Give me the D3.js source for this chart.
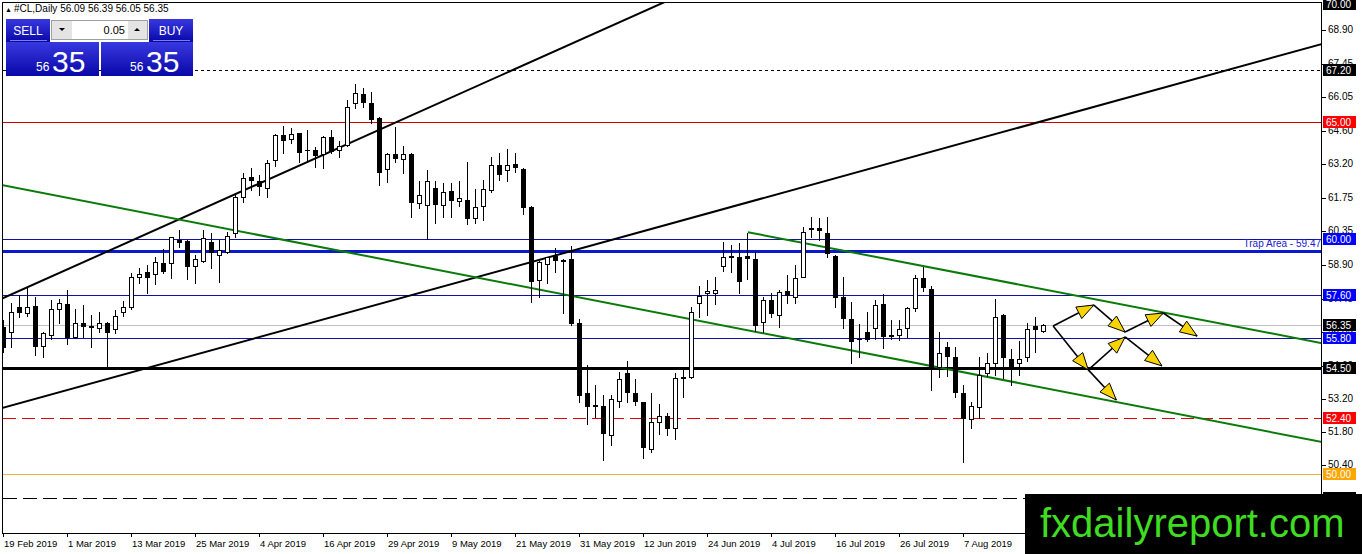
<!DOCTYPE html>
<html>
<head>
<meta charset="utf-8">
<title>#CL,Daily</title>
<script src="https://d3js.org/d3.v7.min.js"></script>
<style>
    body{margin:0;background:#fff;}
    svg{display:block;}
    text{font-family:"Liberation Sans",Arial,sans-serif;}
</style>
</head>
<body>
<svg width="1362" height="554"></svg>
<script>
// x axis labels and the bar they sit on
var dateLabels = ["19 Feb 2019","1 Mar 2019","13 Mar 2019","25 Mar 2019","4 Apr 2019","16 Apr 2019",
    "29 Apr 2019","9 May 2019","21 May 2019","31 May 2019","12 Jun 2019","24 Jun 2019","4 Jul 2019",
    "16 Jul 2019","26 Jul 2019","7 Aug 2019"];
var dateBars = [0,8,16,24,32,40,48,56,64,72,80,88,96,104,112,120];

// daily candles, bar 0 = 19 Feb 2019
var opens = [56.26,56.03,57.09,56.84,57.15,55.46,55.91,57.01,57.22,55.84,56.44,56.30,56.20,56.41,56.16,56.88,57.12,58.37,58.58,58.50,
    58.98,58.97,59.96,59.91,58.86,59.08,59.89,59.32,59.46,60.27,61.80,62.63,62.48,62.18,63.36,64.43,64.24,64.50,63.79,63.79,
    63.62,64.33,63.79,64.00,65.80,66.17,65.80,65.14,62.97,63.60,63.39,63.62,61.54,61.43,62.16,61.43,62.03,61.63,61.65,60.88,
    61.40,62.09,63.15,62.94,63.19,62.97,61.37,58.26,58.94,59.28,59.11,59.14,56.44,53.43,52.92,52.89,51.66,53.12,54.29,53.43,
    53.05,51.05,52.20,52.48,51.94,54.11,54.11,57.26,57.71,57.71,58.86,59.25,59.22,59.28,59.14,56.48,57.40,56.75,57.79,57.54,
    58.40,60.46,60.46,60.24,59.28,57.52,56.60,55.73,56.06,56.20,57.22,55.87,55.91,56.20,57.05,58.33,57.86,54.57,55.42,54.97,
    53.46,52.33,52.86,54.31,54.71,56.77,54.88,54.74,54.97,56.30,56.09];
var highs = [56.55,57.26,57.62,57.90,57.52,56.06,57.40,57.43,57.83,57.02,57.19,56.77,56.91,56.48,56.98,57.37,58.54,58.75,58.89,59.25,
    59.56,60.10,60.38,59.96,59.32,60.38,60.24,59.96,60.31,61.87,62.80,63.01,62.72,63.36,64.47,64.81,64.71,64.52,64.64,63.93,
    64.38,64.64,64.17,65.91,66.60,66.41,66.27,65.18,63.67,64.78,63.96,63.65,62.48,62.94,62.48,62.37,62.37,62.48,63.29,62.11,
    62.51,63.50,63.65,63.82,63.67,63.01,61.40,59.08,59.25,59.60,59.14,59.70,56.58,54.64,53.79,53.36,53.36,54.35,54.82,54.03,
    53.08,53.43,52.98,52.61,54.29,54.46,57.12,58.00,58.26,58.37,59.89,59.74,59.82,60.27,59.46,57.54,57.69,57.83,58.47,58.89,
    60.52,60.95,60.88,60.95,59.32,58.37,57.33,56.38,56.88,57.40,57.66,56.55,56.55,57.09,58.47,58.82,58.00,56.06,55.63,55.42,
    53.79,53.08,54.99,55.14,57.43,56.81,55.31,55.67,56.44,56.67,56.39];
var lows = [55.19,55.42,56.69,56.72,55.06,54.99,55.73,56.41,55.53,55.80,55.84,55.42,56.06,54.57,56.01,56.72,57.01,58.14,57.71,58.09,
    58.54,58.33,59.67,58.29,58.14,59.03,58.75,58.18,59.42,60.10,61.59,62.09,61.87,61.80,63.11,63.67,64.07,63.29,63.36,63.05,
    63.01,63.65,63.48,63.96,65.56,65.63,64.92,62.30,62.44,63.29,62.80,60.92,61.31,60.01,60.67,60.92,60.92,61.40,60.64,60.69,
    60.81,62.01,62.51,62.48,62.86,61.06,57.33,57.54,58.11,58.61,56.86,56.33,53.08,52.13,52.44,50.60,51.23,52.86,53.08,52.94,
    50.67,50.95,51.70,51.66,51.48,53.29,54.07,56.67,56.77,57.22,58.65,58.61,57.71,58.30,56.10,56.06,56.69,56.27,57.29,57.29,
    58.37,60.10,59.96,59.22,57.09,56.20,54.74,54.99,55.65,55.73,55.35,55.73,55.70,55.82,56.95,57.80,53.57,54.14,54.17,53.29,
    50.52,51.94,52.37,54.17,54.21,54.07,53.79,54.21,54.82,55.20,56.05];
var closes = [55.36,56.88,56.84,57.09,55.42,55.99,57.01,57.26,55.77,56.44,56.27,56.20,56.41,56.01,56.74,57.09,58.37,58.50,58.33,59.02,
    58.58,60.07,59.84,58.82,59.14,60.03,59.39,59.53,60.13,61.80,62.58,62.48,62.20,63.25,64.44,64.18,64.47,63.67,63.73,63.54,
    64.33,63.71,63.97,65.63,66.20,65.77,65.06,62.80,63.60,63.42,63.60,61.54,61.86,62.48,61.43,62.00,61.60,61.73,60.84,61.35,
    62.11,63.15,62.72,63.14,63.01,61.31,58.18,59.03,59.22,59.06,59.03,56.38,53.33,52.84,52.86,51.70,53.18,54.03,53.43,53.05,
    51.09,52.20,52.48,51.91,54.07,54.06,56.91,57.57,57.79,57.83,59.22,59.28,58.18,59.16,56.30,57.40,56.80,57.74,57.59,58.33,
    60.29,60.38,60.35,59.36,57.48,56.58,55.63,55.70,55.70,57.18,55.84,55.91,56.16,57.05,58.33,57.90,54.50,55.16,54.99,53.43,
    52.33,52.91,54.21,54.74,56.69,54.92,54.57,54.88,56.16,56.13,56.35];

// price scale labels
var priceTicks = [68.90,67.45,66.05,64.60,63.20,61.75,60.35,58.90,57.45,56.05,54.60,53.20,51.80,50.40,49.00];

// horizontal levels and the price tags on the scale
var levelPrices = [67.20,65.00,60.00,59.47,57.60,56.35,55.80,54.50,52.40,50.00,49.00];
var tagPrices = [70.00,67.20,65.00,60.00,57.60,56.35,55.80,54.50,52.40,50.00,49.00];

// trend lines [bar, price, bar, price]
var trendLines = [[-1,57.34,84,70.29],[-1,52.73,166,68.41],[-1,62.35,166,51.28],[93.05,60.29,166,55.49]];

// scenario arrows [bar, price, bar, price]
var arrowSegs = [[131.2,56.30,136.3,57.19],[136.3,57.19,140.2,56.04],[140.2,56.04,144.97,56.85],[144.97,56.85,149.2,55.87],
    [131.2,56.30,135.6,54.43],[135.6,54.43,140.2,55.83],[140.2,55.83,144.8,54.60],[135.6,54.43,139.1,53.15]];

var svg = d3.select("svg");
var plotL = 3, plotR = 1322, plotT = 3, plotB = 533;

var x = d3.scaleLinear().domain([0,130]).range([3.5,1043.5]);
var y = d3.scaleLinear().domain([50,70]).range([474,4]);
var py = function(p){ return Math.round(y(p)) + 0.5; };

var defs = svg.append("defs");
defs.append("clipPath").attr("id","plot")
    .append("rect").attr("x",plotL).attr("y",plotT).attr("width",plotR-plotL).attr("height",plotB-plotT);
var grad = defs.append("linearGradient").attr("id","blu").attr("x1",0).attr("y1",0).attr("x2",0).attr("y2",1);
grad.append("stop").attr("offset","0%").attr("stop-color","#3838e0");
grad.append("stop").attr("offset","100%").attr("stop-color","#0808a8");

var plot = svg.append("g").attr("clip-path","url(#plot)");

// levels
var levelStyles = [
    {c:"#000",w:1,d:"3,3"},{c:"#d00000",w:1,d:null},{c:"#1010a8",w:1,d:null},{c:"#0a18d0",w:3,d:null},
    {c:"#1010a8",w:1,d:null},{c:"#c0c0c0",w:1,d:null},{c:"#1010a8",w:1,d:null},{c:"#000",w:2.5,d:null},
    {c:"#e00000",w:1,d:"13,6"},{c:"#f0b040",w:1,d:null},{c:"#000",w:1.3,d:"14,6"}];
plot.selectAll(".lvl").data(levelPrices).enter().append("line")
    .attr("x1",plotL).attr("x2",plotR)
    .attr("y1",function(d){return py(d);}).attr("y2",function(d){return py(d);})
    .attr("stroke",function(d,i){return levelStyles[i].c;})
    .attr("stroke-width",function(d,i){return levelStyles[i].w;})
    .attr("stroke-dasharray",function(d,i){return levelStyles[i].d;})
    .attr("shape-rendering","crispEdges");

plot.append("text").attr("x",plotR-1).attr("y",y(59.47)-4)
    .attr("text-anchor","end").attr("font-size","10px").attr("fill","#1a1ad0")
    .text("Trap Area - 59.47");

// trend lines
var trendColors = ["#000","#000","#0a7a0a","#0a7a0a"];
plot.selectAll(".tl").data(trendLines).enter().append("line")
    .attr("x1",function(d){return x(d[0]);}).attr("y1",function(d){return y(d[1]);})
    .attr("x2",function(d){return x(d[2]);}).attr("y2",function(d){return y(d[3]);})
    .attr("stroke",function(d,i){return trendColors[i];})
    .attr("stroke-width",2);

// candles
var bars = d3.range(opens.length);
var cg = plot.append("g").attr("shape-rendering","crispEdges");
cg.selectAll(".wick").data(bars).enter().append("line")
    .attr("x1",function(i){return x(i);}).attr("x2",function(i){return x(i);})
    .attr("y1",function(i){return Math.round(y(highs[i]));})
    .attr("y2",function(i){return Math.round(y(lows[i]))+1;})
    .attr("stroke","#000");
cg.selectAll(".body").data(bars).enter().append("rect")
    .attr("x",function(i){return closes[i]>=opens[i] ? x(i)-2 : x(i)-2.5;})
    .attr("width",function(i){return closes[i]>=opens[i] ? 4 : 5;})
    .attr("y",function(i){
        var t = Math.round(y(Math.max(opens[i],closes[i])));
        return closes[i]>=opens[i] ? t+0.5 : t;
    })
    .attr("height",function(i){
        var h = Math.round(y(Math.min(opens[i],closes[i]))) - Math.round(y(Math.max(opens[i],closes[i])));
        return Math.max(h,1);
    })
    .attr("fill",function(i){return closes[i]>=opens[i] ? "#fff" : "#000";})
    .attr("stroke",function(i){return closes[i]>=opens[i] ? "#000" : "none";});

// arrows
var ag = plot.append("g");
arrowSegs.forEach(function(s){
    var x1 = x(s[0]), y1 = y(s[1]), x2 = x(s[2]), y2 = y(s[3]);
    var a = Math.atan2(y2-y1, x2-x1), L = 17, W = 6.5;
    ag.append("line").attr("x1",x1).attr("y1",y1).attr("x2",x2).attr("y2",y2)
        .attr("stroke","#000").attr("stroke-width",1.6);
    var bx = x2 - L*Math.cos(a), by = y2 - L*Math.sin(a);
    var pts = [[x2,y2],[bx - W*Math.sin(a), by + W*Math.cos(a)],[bx + W*Math.sin(a), by - W*Math.cos(a)]];
    ag.append("polygon").attr("points",pts.map(function(p){return p.join(",");}).join(" "))
        .attr("fill","#f7d400").attr("stroke","#000").attr("stroke-width",1);
});

// frame
svg.append("rect").attr("x",2.5).attr("y",2.5).attr("width",plotR-3).attr("height",plotB-2.5)
    .attr("fill","none").attr("stroke","#000").attr("shape-rendering","crispEdges");

// price scale
var ax = svg.append("g");
ax.selectAll(".tk").data(priceTicks).enter().append("line")
    .attr("x1",plotR).attr("x2",plotR+4)
    .attr("y1",function(d){return py(d);}).attr("y2",function(d){return py(d);})
    .attr("stroke","#000").attr("shape-rendering","crispEdges");
ax.selectAll(".tl").data(priceTicks).enter().append("text")
    .attr("x",plotR+6).attr("y",function(d){return y(d)+3.5;})
    .attr("font-size","10px").attr("fill","#000")
    .text(function(d){return d.toFixed(2);});

var tagColors = ["#000","#000","#ff0000","#0000ff","#0000ff","#000","#0000ff","#000","#ff0000","#ffa500","#000"];
var tags = svg.append("g").selectAll(".tag").data(tagPrices).enter().append("g");
tags.append("rect").attr("x",plotR+1).attr("width",33).attr("height",12)
    .attr("y",function(d){return Math.round(y(d))-6;})
    .attr("fill",function(d,i){return tagColors[i];})
    .attr("shape-rendering","crispEdges");
tags.append("text").attr("x",plotR+4).attr("y",function(d){return Math.round(y(d))+4;})
    .attr("font-size","10px").attr("fill","#fff")
    .text(function(d){return d.toFixed(2);});

// time scale
var tx = svg.append("g");
tx.selectAll(".vt").data(dateBars).enter().append("line")
    .attr("x1",function(d){return x(d);}).attr("x2",function(d){return x(d);})
    .attr("y1",plotB).attr("y2",plotB+4).attr("stroke","#000").attr("shape-rendering","crispEdges");
tx.selectAll(".vl").data(dateBars).enter().append("text")
    .attr("x",function(d){return x(d)+0.5;}).attr("y",547)
    .attr("font-size","9.5px").attr("fill","#000")
    .text(function(d,i){return dateLabels[i];});

// header
svg.append("text").attr("x",5).attr("y",12).attr("font-size","7px").text("\u25B2");
svg.append("text").attr("x",14).attr("y",12).attr("font-size","10px").attr("fill","#000")
    .text("#CL,Daily  56.09 56.39 56.05 56.35");

// one click trading panel
var p = svg.append("g");
p.append("rect").attr("x",6).attr("y",19).attr("width",44).attr("height",23).attr("fill","url(#blu)");
p.append("rect").attr("x",149).attr("y",19).attr("width",44).attr("height",23).attr("fill","url(#blu)");
p.append("rect").attr("x",6).attr("y",42).attr("width",93).attr("height",34).attr("fill","url(#blu)");
p.append("rect").attr("x",101).attr("y",42).attr("width",92).attr("height",34).attr("fill","url(#blu)");
p.append("line").attr("x1",10).attr("x2",47).attr("y1",40.5).attr("y2",40.5).attr("stroke","#7c7cf0");
p.append("line").attr("x1",153).attr("x2",190).attr("y1",40.5).attr("y2",40.5).attr("stroke","#7c7cf0");
p.append("rect").attr("x",51.5).attr("y",20.5).attr("width",96).attr("height",19).attr("fill","#fff").attr("stroke","#a0a0a0");
p.append("rect").attr("x",52).attr("y",21).attr("width",20).attr("height",18).attr("fill","#e4e4e4");
p.append("rect").attr("x",128).attr("y",21).attr("width",19).attr("height",18).attr("fill","#e4e4e4");
p.append("path").attr("d","M59,28 L65,28 L62,31 Z").attr("fill","#000");
p.append("path").attr("d","M134,31 L140,31 L137,28 Z").attr("fill","#000");
p.append("text").attr("x",125).attr("y",34).attr("text-anchor","end").attr("font-size","11px").attr("fill","#000").text("0.05");
p.append("text").attr("x",28).attr("y",35).attr("text-anchor","middle").attr("font-size","12px").attr("fill","#fff").text("SELL");
p.append("text").attr("x",171).attr("y",35).attr("text-anchor","middle").attr("font-size","12px").attr("fill","#fff").text("BUY");
p.append("text").attr("x",36).attr("y",71).attr("font-size","12px").attr("fill","#fff").text("56");
p.append("text").attr("x",52).attr("y",72).attr("font-size","30px").attr("fill","#fff").text("35");
p.append("text").attr("x",130).attr("y",71).attr("font-size","12px").attr("fill","#fff").text("56");
p.append("text").attr("x",146).attr("y",72).attr("font-size","30px").attr("fill","#fff").text("35");

// watermark
svg.append("rect").attr("x",1025).attr("y",494).attr("width",337).attr("height",60).attr("fill","#000");
svg.append("text").attr("x",1040).attr("y",537).attr("font-size","40px").attr("fill","#3fdc22")
    .text("fxdailyreport.com");
</script>
</body>
</html>
